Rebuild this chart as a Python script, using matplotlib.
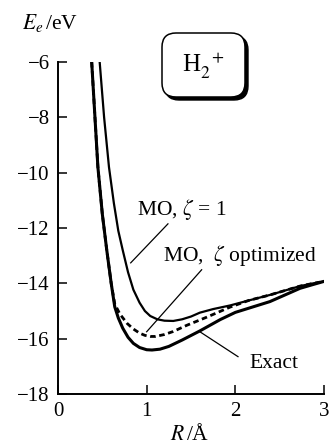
import matplotlib
matplotlib.use('Agg')

import matplotlib.pyplot as plt
from matplotlib.patches import FancyBboxPatch
from matplotlib.transforms import IdentityTransform

# Curves (R in angstrom, E in eV)
r_exact = [0.38, 0.45, 0.50, 0.55, 0.60, 0.64, 0.68, 0.73, 0.79, 0.85, 0.92, 1.00, 1.06,
           1.15, 1.25, 1.40, 1.60, 1.83, 2.00, 2.20, 2.39, 2.56, 2.73, 2.88, 3.00]
e_exact = [-6.0, -9.8, -11.5, -12.8, -14.0, -14.85, -15.25, -15.62, -15.95, -16.17, -16.32,
           -16.40, -16.41, -16.38, -16.28, -16.05, -15.72, -15.31, -15.05, -14.85, -14.66,
           -14.42, -14.18, -14.04, -13.93]

r_opt = [0.38, 0.45, 0.50, 0.55, 0.60, 0.64, 0.70, 0.78, 0.85, 0.92, 0.98, 1.04, 1.10,
         1.20, 1.30, 1.45, 1.68, 1.94, 2.15, 2.39, 2.56, 2.73, 2.88, 3.00]
e_opt = [-6.0, -9.8, -11.5, -12.8, -14.0, -14.75, -15.12, -15.45, -15.65, -15.80, -15.88,
         -15.92, -15.92, -15.85, -15.74, -15.52, -15.22, -14.86, -14.62, -14.42, -14.26,
         -14.10, -14.00, -13.93]

r_mo1 = [0.47, 0.52, 0.575, 0.63, 0.68, 0.73, 0.79, 0.85, 0.92, 0.98, 1.04, 1.12, 1.20,
         1.30, 1.40, 1.50, 1.60, 1.75, 1.94, 2.15, 2.39, 2.56, 2.73, 2.88, 3.00]
e_mo1 = [-6.0, -8.0, -9.8, -11.1, -12.1, -12.8, -13.6, -14.23, -14.70, -15.00, -15.18,
         -15.30, -15.35, -15.36, -15.30, -15.20, -15.06, -14.93, -14.80, -14.62, -14.42,
         -14.26, -14.10, -14.00, -13.93]

y_ticks = [-6, -8, -10, -12, -14, -16, -18]
x_ticks = [0, 1, 2, 3]

plt.rcParams['font.family'] = ['Liberation Serif', 'DejaVu Serif']
plt.rcParams['mathtext.fontset'] = 'stix'
plt.rcParams['axes.unicode_minus'] = True

fig = plt.figure(figsize=(3.29, 4.45), dpi=100)
ax = fig.add_axes([58 / 329, 51 / 445, 266 / 329, 332 / 445])

# Energy curves
ax.plot(r_mo1, e_mo1, '-', color='black', lw=1.6)
ax.plot(r_opt, e_opt, color='black', lw=2.0, linestyle=(0, (2.0, 1.3)))
ax.plot(r_exact, e_exact, '-', color='black', lw=2.2)

ax.set_xlim(0, 3)
ax.set_ylim(-18, -6)
ax.set_xticks(x_ticks)
ax.set_yticks(y_ticks)
for side in ['top', 'right']:
    ax.spines[side].set_visible(False)
for side in ['left', 'bottom']:
    ax.spines[side].set_linewidth(1.4)
ax.tick_params(direction='in', length=6.5, width=1.1, labelsize=15, pad=6)

# Axis titles
fig.text(22 / 329, 1 - 29 / 445, r'$E_{e}\,$/eV', fontsize=15.5, ha='left', va='baseline')
fig.text(190 / 329, 1 - 440 / 445, r'$R\,$/Å', fontsize=15.5, ha='center', va='baseline')

# Curve labels with pointer lines
ax.text(1.40, -11.34, r'MO, $\zeta$ = 1', fontsize=15.5, ha='center', va='center')
ax.plot([1.24, 0.82], [-11.85, -13.26], color='black', lw=0.9)
ax.text(2.05, -13.0, r'MO,  $\zeta$ optimized', fontsize=15.5, ha='center', va='center')
ax.plot([1.62, 1.0], [-13.51, -15.75], color='black', lw=0.9)
ax.text(2.44, -16.9, 'Exact', fontsize=15.5, ha='center', va='center')
ax.plot([1.6, 2.03], [-15.75, -16.65], color='black', lw=0.9)

# H2+ box with drop shadow, in pixel coordinates
box_x, box_y, box_w, box_h = 162, 445 - 97, 83, 64
shadow = FancyBboxPatch((box_x + 3, box_y - 3), box_w, box_h,
                        boxstyle='round,pad=0,rounding_size=14',
                        facecolor='black', edgecolor='black', lw=1,
                        transform=IdentityTransform(), figure=fig)
box = FancyBboxPatch((box_x, box_y), box_w, box_h,
                     boxstyle='round,pad=0,rounding_size=14',
                     facecolor='white', edgecolor='black', lw=1.1,
                     transform=IdentityTransform(), figure=fig)
fig.patches.extend([shadow, box])
fig.text(203 / 329, 1 - 66 / 445, r'H$_{2}^{\ \ +}$', fontsize=18, ha='center', va='center')

plt.savefig('out.png', dpi=100)
